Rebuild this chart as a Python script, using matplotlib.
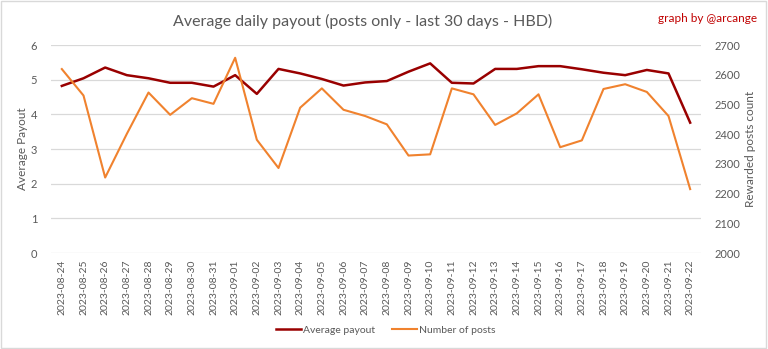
import matplotlib.pyplot as plt
from matplotlib.patches import Rectangle

plt.rcParams['font.family'] = ['Lato', 'DejaVu Sans']

# Data
dates = ["2023-08-24", "2023-08-25", "2023-08-26", "2023-08-27", "2023-08-28",
         "2023-08-29", "2023-08-30", "2023-08-31", "2023-09-01", "2023-09-02",
         "2023-09-03", "2023-09-04", "2023-09-05", "2023-09-06", "2023-09-07",
         "2023-09-08", "2023-09-09", "2023-09-10", "2023-09-11", "2023-09-12",
         "2023-09-13", "2023-09-14", "2023-09-15", "2023-09-16", "2023-09-17",
         "2023-09-18", "2023-09-19", "2023-09-20", "2023-09-21", "2023-09-22"]
avg_payout = [4.82, 5.04, 5.35, 5.13, 5.04, 4.91, 4.91, 4.80, 5.13, 4.59,
              5.31, 5.18, 5.02, 4.83, 4.92, 4.96, 5.23, 5.47, 4.91, 4.89,
              5.31, 5.31, 5.39, 5.39, 5.30, 5.20, 5.13, 5.28, 5.18, 3.76]
num_posts = [2619, 2530, 2254, 2401, 2540, 2465, 2521, 2502, 2657, 2381,
             2286, 2489, 2554, 2482, 2461, 2433, 2328, 2332, 2554, 2534,
             2431, 2470, 2534, 2356, 2379, 2552, 2568, 2542, 2461, 2215]

grey = '#595959'
red = '#990000'
orange = '#F0822E'

fig = plt.figure(figsize=(7.68, 3.49), dpi=100)
ax = fig.add_axes([51 / 768, 1 - 253 / 349, 650 / 768, 208 / 349])
ax2 = ax.twinx()

x = list(range(len(dates)))
l1, = ax.plot(x, avg_payout, color=red, lw=1.8, label='Average payout', zorder=3)
l2, = ax2.plot(x, num_posts, color=orange, lw=1.5, label='Number of posts', zorder=2)

ax.set_xlim(-0.5, len(dates) - 0.5)
ax.set_ylim(0, 6)
ax2.set_ylim(2000, 2700)
ax.set_yticks(range(0, 7))
ax2.set_yticks(range(2000, 2701, 100))
ax.set_xticks(x)
ax.set_xticklabels(dates, rotation=90, fontsize=7.5, color=grey)

ax.grid(axis='y', color='#D9D9D9', lw=0.9)
ax.set_axisbelow(True)
for a in (ax, ax2):
    for s in a.spines.values():
        s.set_visible(False)
    a.tick_params(length=0, colors=grey, labelsize=8)
ax.tick_params(axis='x', labelsize=7.5, pad=5)
ax.tick_params(axis='y', pad=10)
ax2.tick_params(axis='y', pad=10)

ax.set_ylabel('Average Payout', color=grey, fontsize=8.5, labelpad=2)
ax2.set_ylabel('Rewarded posts count', color=grey, fontsize=8.5, labelpad=3)

fig.text(363 / 768, 1 - 21 / 349, 'Average daily payout (posts only - last 30 days - HBD)',
         ha='center', va='center', fontsize=11.5, color=grey)
fig.text(757 / 768, 1 - 19 / 349, 'graph by @arcange', ha='right', va='center',
         fontsize=8.5, color='#C00000')

fig.legend(handles=[l1, l2], loc='center', bbox_to_anchor=(386 / 768, 1 - 330 / 349),
           ncol=2, frameon=False, fontsize=7.5, labelcolor=grey,
           handlelength=2.4, columnspacing=1.6, handletextpad=0.2)

fig.patches.append(Rectangle((0.001, 0.002), 0.997, 0.995, transform=fig.transFigure,
                             fill=False, edgecolor='#D9D9D9', lw=1))

fig.savefig('out.png', dpi=100)
